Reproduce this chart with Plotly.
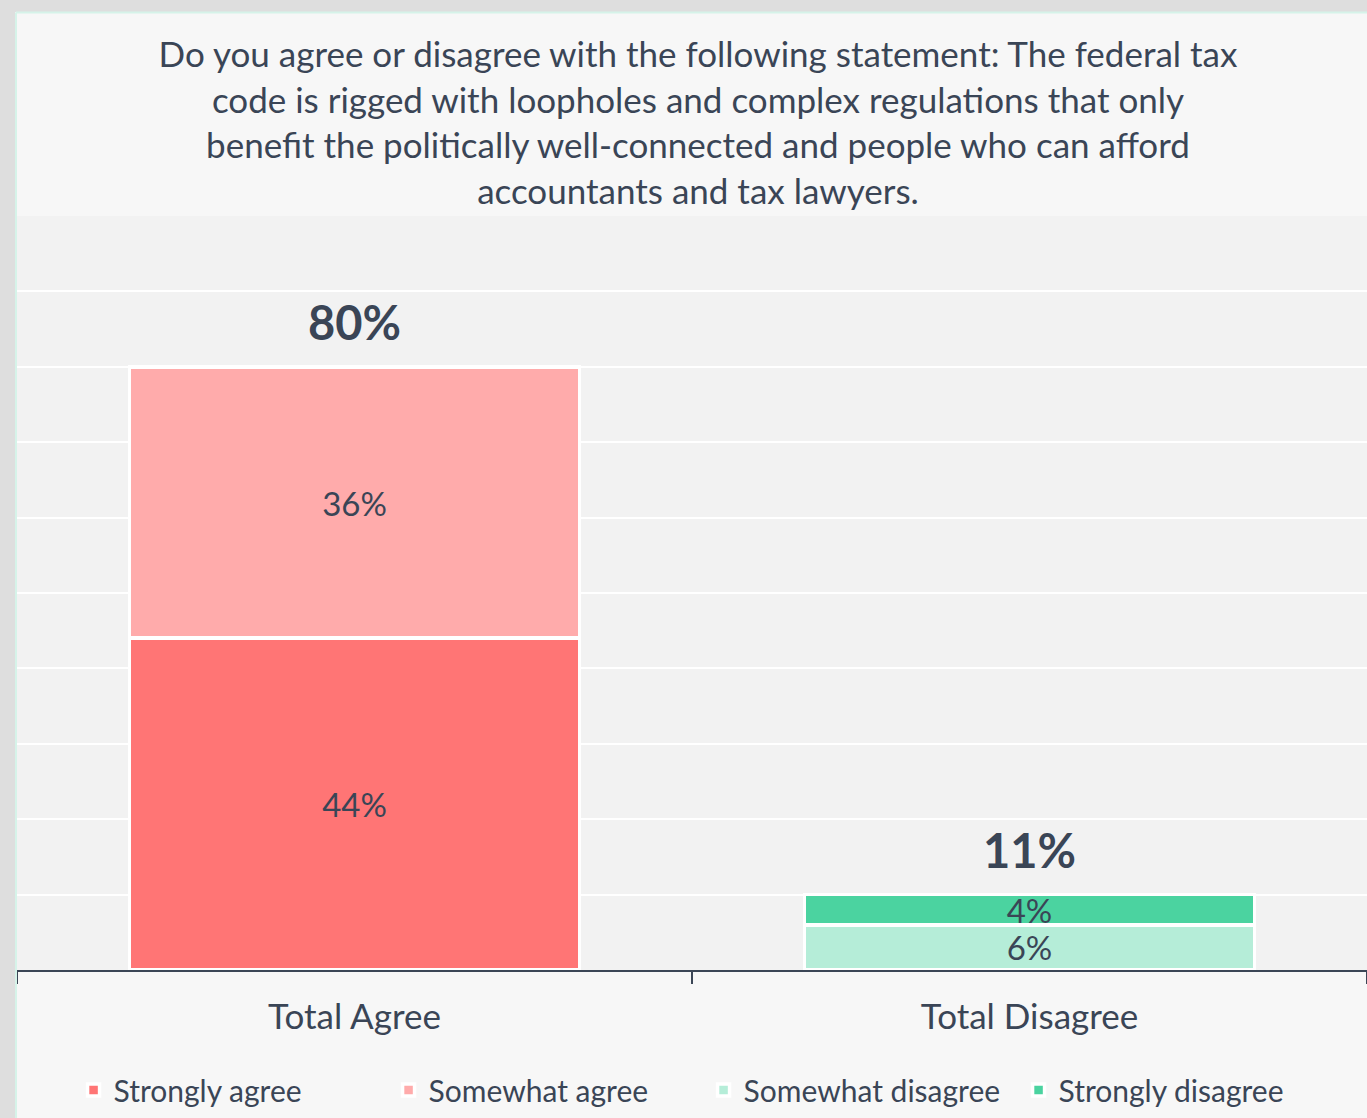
import plotly.graph_objects as go

# Survey data
categories = ["Total Agree", "Total Disagree"]
series_names = ["Strongly agree", "Somewhat agree", "Somewhat disagree", "Strongly disagree"]
series_values = [
    [44, None],   # Strongly agree
    [36, None],   # Somewhat agree
    [None, 6],    # Somewhat disagree
    [None, 4],    # Strongly disagree
]
total_labels = ["80%", "11%"]

colors = ["#FF7575", "#FFABAB", "#B5EDD8", "#4BD3A0"]
text_color = "#3A4556"
font_family = "Lato"

title_text = ("Do you agree or disagree with the following statement: The federal tax<br>"
              "code is rigged with loopholes and complex regulations that only<br>"
              "benefit the politically well-connected and people who can afford<br>"
              "accountants and tax lawyers.")

W, H = 1367, 1118
M_L, M_R, M_T, M_B = 17, 0, 216, 148
PW, PH = W - M_L - M_R, H - M_T - M_B

fig = go.Figure()

for name, vals, col in zip(series_names, series_values, colors):
    fig.add_trace(go.Bar(
        x=categories,
        y=vals,
        name=name,
        marker=dict(color=col, line=dict(color="white", width=3.5)),
        text=[f"{v}%" if v is not None else "" for v in vals],
        textposition="inside",
        insidetextanchor="middle",
        textfont=dict(color=text_color, size=33, family=font_family),
        hoverinfo="skip",
    ))

# Totals above each stacked column, positioned at the stack height
stack_tops = [sum(v[i] for v in series_values if v[i] is not None) for i in range(len(categories))]
for cat, top, lab in zip(categories, stack_tops, total_labels):
    fig.add_annotation(
        x=cat, y=top, text=f"<b>{lab}</b>", showarrow=False,
        yanchor="middle", yshift=45,
        font=dict(size=47, color=text_color, family=font_family),
    )


def px_x(p):
    return (p - M_L) / PW


def px_y(p):
    return 1 - (p - M_T) / PH


# Frame shadow on the left and top edges, plus a thin mint border
shapes = [
    dict(type="rect", xref="paper", yref="paper", x0=px_x(0), x1=px_x(15), y0=px_y(H), y1=px_y(0),
         fillcolor="#DEDEDE", line=dict(width=0), layer="below"),
    dict(type="rect", xref="paper", yref="paper", x0=px_x(0), x1=px_x(W), y0=px_y(12), y1=px_y(0),
         fillcolor="#DEDEDE", line=dict(width=0), layer="below"),
    dict(type="line", xref="paper", yref="paper", x0=px_x(16), x1=px_x(16), y0=px_y(H), y1=px_y(12.5),
         line=dict(color="#D6F3E9", width=2)),
    dict(type="line", xref="paper", yref="paper", x0=px_x(16), x1=px_x(W), y0=px_y(12.5), y1=px_y(12.5),
         line=dict(color="#D6F3E9", width=2)),
]

fig.update_layout(
    width=W, height=H,
    margin=dict(l=M_L, r=M_R, t=M_T, b=M_B),
    paper_bgcolor="#F7F7F7",
    plot_bgcolor="#F2F2F2",
    barmode="stack",
    bargap=1 / 3,
    font=dict(family=font_family, color=text_color),
    title=dict(
        text=title_text,
        x=698 / W, xanchor="center",
        yref="container", y=1 - 67 / H, yanchor="middle",
        font=dict(size=35, color=text_color, family=font_family),
    ),
    xaxis=dict(
        showline=True, linecolor="#3B4656", linewidth=2,
        ticks="outside", tickson="boundaries", ticklen=12, tickcolor="#3B4656", tickwidth=2,
        tickfont=dict(size=35, color=text_color, family=font_family),
        ticklabelstandoff=15,
        showgrid=False,
    ),
    yaxis=dict(
        range=[0, 100], dtick=10, showgrid=True, gridcolor="white", gridwidth=2,
        showticklabels=False, zeroline=False, showline=False, fixedrange=True,
    ),
    legend=dict(
        orientation="h", x=0.0419, xanchor="left",
        yref="container", y=1 - 1090 / H, yanchor="middle",
        font=dict(size=30, color=text_color, family=font_family),
        entrywidth=270, entrywidthmode="pixels",
        bgcolor="rgba(0,0,0,0)",
        traceorder="normal",
    ),
    uniformtext=dict(minsize=33, mode="show"),
    shapes=shapes,
    showlegend=True,
)

fig.write_html("out.html")
